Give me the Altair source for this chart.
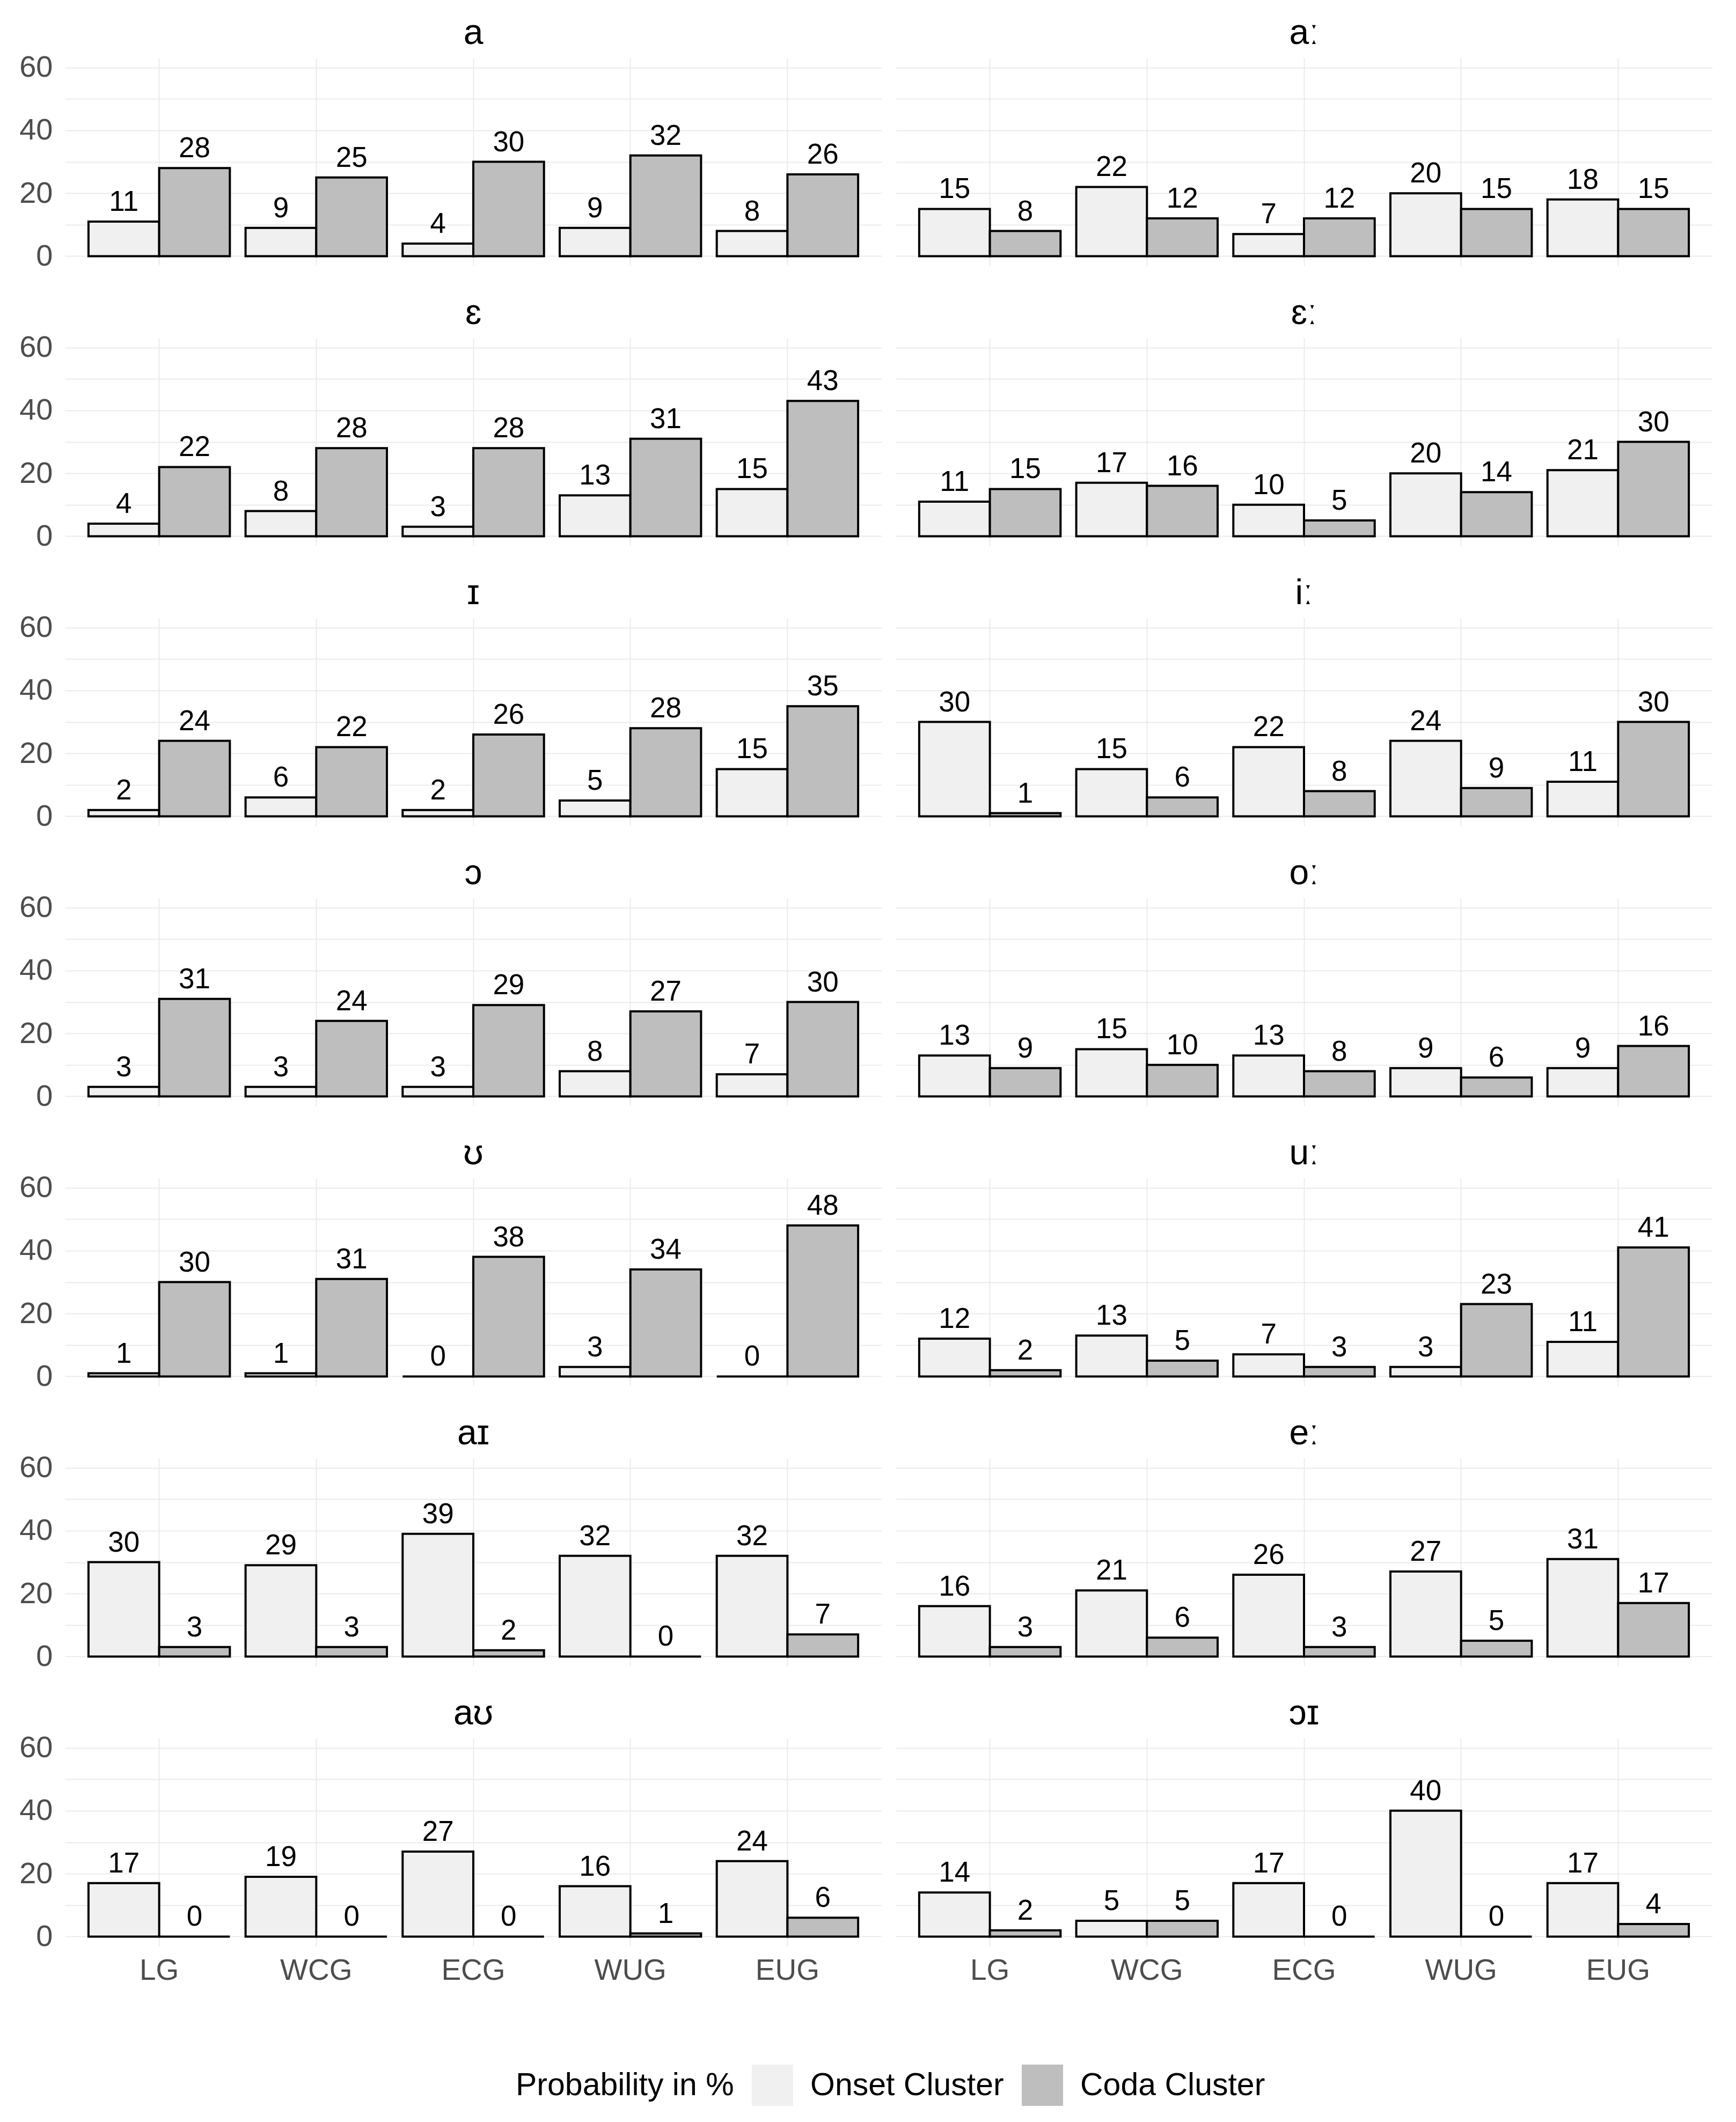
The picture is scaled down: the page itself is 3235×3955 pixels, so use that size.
import altair as alt
import pandas as pd

vowels = ["a", "aː", "ɛ", "ɛː", "ɪ", "iː", "ɔ", "oː", "ʊ", "uː", "aɪ", "eː", "aʊ", "ɔɪ"]
varieties = ["LG", "WCG", "ECG", "WUG", "EUG"]
clusters = ["Onset Cluster", "Coda Cluster"]

onset = {
    "a": [11, 9, 4, 9, 8],
    "aː": [15, 22, 7, 20, 18],
    "ɛ": [4, 8, 3, 13, 15],
    "ɛː": [11, 17, 10, 20, 21],
    "ɪ": [2, 6, 2, 5, 15],
    "iː": [30, 15, 22, 24, 11],
    "ɔ": [3, 3, 3, 8, 7],
    "oː": [13, 15, 13, 9, 9],
    "ʊ": [1, 1, 0, 3, 0],
    "uː": [12, 13, 7, 3, 11],
    "aɪ": [30, 29, 39, 32, 32],
    "eː": [16, 21, 26, 27, 31],
    "aʊ": [17, 19, 27, 16, 24],
    "ɔɪ": [14, 5, 17, 40, 17],
}
coda = {
    "a": [28, 25, 30, 32, 26],
    "aː": [8, 12, 12, 15, 15],
    "ɛ": [22, 28, 28, 31, 43],
    "ɛː": [15, 16, 5, 14, 30],
    "ɪ": [24, 22, 26, 28, 35],
    "iː": [1, 6, 8, 9, 30],
    "ɔ": [31, 24, 29, 27, 30],
    "oː": [9, 10, 8, 6, 16],
    "ʊ": [30, 31, 38, 34, 48],
    "uː": [2, 5, 3, 23, 41],
    "aɪ": [3, 3, 2, 0, 7],
    "eː": [3, 6, 3, 5, 17],
    "aʊ": [0, 0, 0, 1, 6],
    "ɔɪ": [2, 5, 0, 0, 4],
}

rows = []
for v in vowels:
    for i, var in enumerate(varieties):
        rows.append({"vowel": v, "variety": var, "cluster": "Onset Cluster", "value": onset[v][i]})
        rows.append({"vowel": v, "variety": var, "cluster": "Coda Cluster", "value": coda[v][i]})
df = pd.DataFrame(rows)

FONT = "Liberation Sans, Arial, DejaVu Sans"

x_enc = alt.X(
    "variety:N",
    sort=varieties,
    scale=alt.Scale(domain=varieties, paddingInner=0.1, paddingOuter=0.15),
    axis=alt.Axis(
        title=None, grid=True, gridColor="#ebebeb", gridWidth=2, ticks=False,
        domain=False, labelFontSize=55, labelColor="#4d4d4d", labelPadding=19,
        labelFont=FONT, bandPosition=0.5, labelAngle=0,
    ),
)
xo_enc = alt.XOffset(
    "cluster:N", sort=clusters,
    scale=alt.Scale(domain=clusters, paddingInner=0, paddingOuter=0),
)
y_scale = alt.Scale(domain=[-3, 63], nice=False, zero=False)

bars = alt.Chart().mark_bar(stroke="black", strokeWidth=4).encode(
    x=x_enc,
    xOffset=xo_enc,
    y=alt.Y(
        "value:Q", scale=y_scale,
        axis=alt.Axis(
            title=None, values=[0, 10, 20, 30, 40, 50, 60],
            labelExpr="datum.value % 20 == 0 ? datum.label : ''",
            grid=True, gridColor="#ebebeb", gridWidth=2, ticks=False, domain=False,
            labelFontSize=56, labelColor="#4d4d4d", labelPadding=23, labelFont=FONT,
        ),
    ),
    y2=alt.datum(0),
    fill=alt.Fill(
        "cluster:N", sort=clusters,
        scale=alt.Scale(domain=clusters, range=["#f0f0f0", "#bebebe"]),
        legend=alt.Legend(
            title="Probability in %", orient="none", legendX=840, legendY=3740,
            direction="horizontal", titleOrient="left", titleFontSize=59,
            titleFontWeight="normal", titleColor="black", titleFont=FONT,
            labelFontSize=59, labelColor="black", labelFont=FONT,
            labelLimit=0, titleLimit=0,
            symbolType="square", symbolSize=5929, symbolStrokeWidth=0,
            columnPadding=33, labelOffset=32, titlePadding=33,
        ),
    ),
)

labels = alt.Chart().mark_text(
    fontSize=53, color="black", align="center", baseline="alphabetic", dy=-20, font=FONT
).encode(
    x=x_enc,
    xOffset=xo_enc,
    y=alt.Y("value:Q", scale=y_scale),
    text="value:Q",
)

chart = alt.layer(bars, labels, data=df).properties(
    width=1522, height=387
).facet(
    facet=alt.Facet(
        "vowel:N", sort=vowels, title=None,
        header=alt.Header(labelFontSize=66, labelColor="black", labelFont=FONT, labelPadding=12),
    ),
    columns=2,
    spacing={"row": 56, "column": 26},
).properties(
    padding={"left": 27, "top": 21, "right": 20, "bottom": 20}
).configure_view(stroke=None)

chart.save("out.html", embed_options={"renderer": "svg", "actions": False})
